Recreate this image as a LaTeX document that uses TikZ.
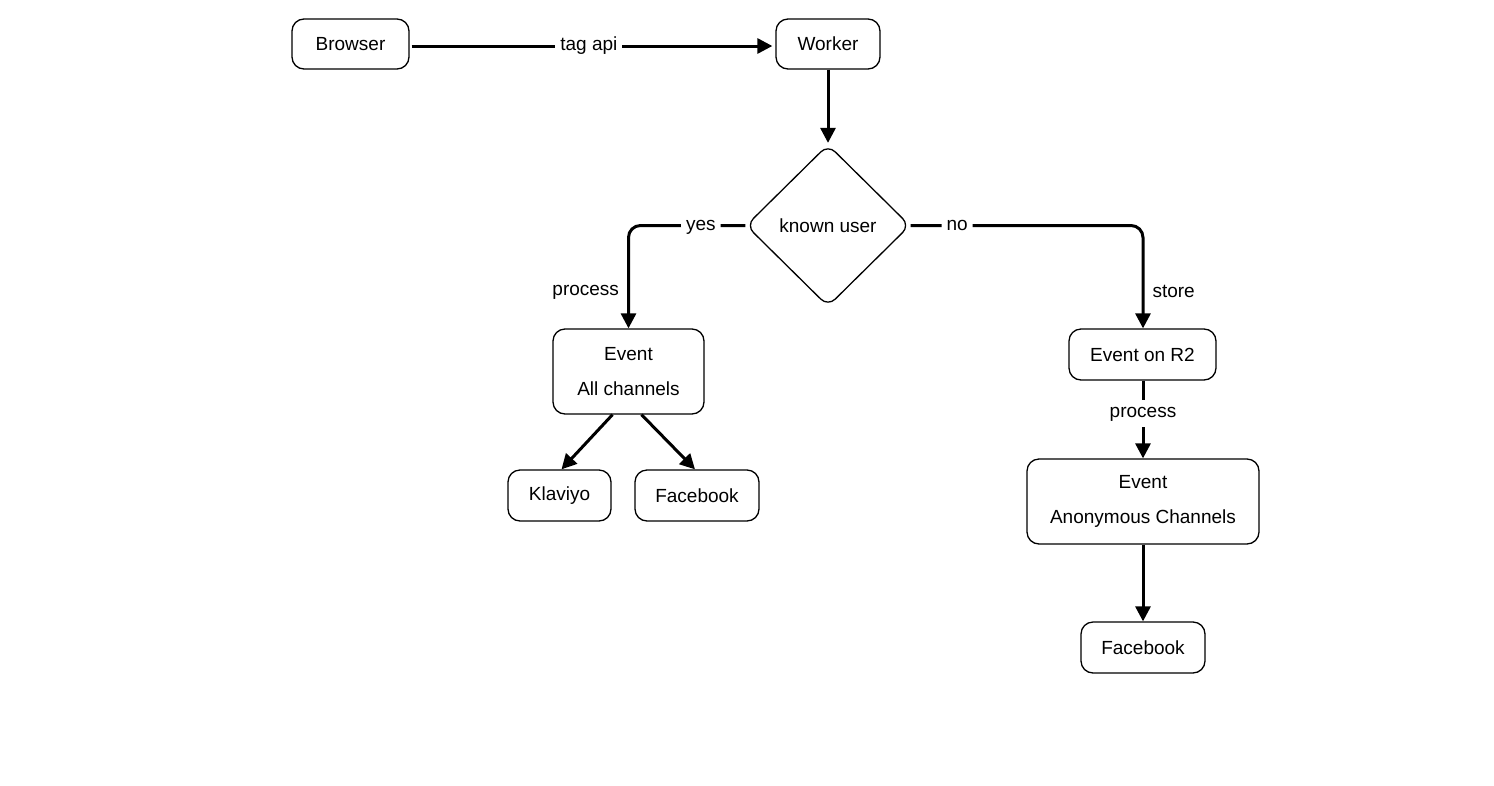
\documentclass[tikz,border=0pt]{standalone}
\usepackage{fontspec}
\setmainfont{Liberation Sans}
\usetikzlibrary{arrows.meta,shapes.geometric}
\tikzset{
  box/.style={draw=black, line width=1.3pt, rounded corners=12pt, inner sep=0pt, align=center, font=\fontsize{19}{35}\selectfont},
  conn/.style={line width=3pt, -{Triangle[length=15pt,width=15pt]}},
  lbl/.style={fill=white, inner sep=5pt, text height=13pt, text depth=4pt, font=\fontsize{19}{22}\selectfont},
  side/.style={inner sep=2pt, text height=13pt, text depth=4pt, font=\fontsize{19}{22}\selectfont},
}
\begin{document}
\begin{tikzpicture}[x=1pt,y=-1pt]
\useasboundingbox[fill=white] (0,0) rectangle (1494,785);
\node[box, minimum width=117pt, minimum height=50pt] (browser) at (350.5,44) {Browser};
\node[box, minimum width=104pt, minimum height=50pt] (worker) at (828,44) {Worker};
\node[draw=black, line width=1.3pt, shape=diamond, rounded corners=10pt, minimum width=164pt, minimum height=162pt, inner sep=0pt, font=\fontsize{19}{22}\selectfont] (dia) at (828,225.5) {known user};
\node[box, minimum width=151pt, minimum height=85pt] (ev1) at (628.5,371.5) {Event\\All channels};
\node[box, minimum width=103pt, minimum height=51pt] (klav) at (559.5,495.5) {Klaviyo};
\node[box, minimum width=124pt, minimum height=51pt] (fb1) at (697,495.5) {Facebook};
\node[box, minimum width=147pt, minimum height=51pt] (r2) at (1142.5,354.5) {Event on R2};
\node[box, minimum width=232pt, minimum height=85pt] (ev2) at (1143,501.5) {Event\\Anonymous Channels};
\node[box, minimum width=124pt, minimum height=51pt] (fb2) at (1143,647.5) {Facebook};

\draw[conn, shorten <=2pt, shorten >=3pt] ([yshift=-2pt]browser.east) -- node[lbl, pos=0.49] {tag api} ([yshift=-2pt]worker.west);
\draw[conn, shorten >=1pt] (worker.south) -- (dia.north);
\draw[conn, rounded corners=12pt] (dia.west) -| node[lbl, pos=0.19] {yes} node[side, left, pos=0.82, xshift=-6pt] {process} (ev1.north);
\draw[conn, rounded corners=12pt] (dia.east) -| node[lbl, pos=0.1] {no} node[side, right, pos=0.83, xshift=6pt] {store} ([xshift=0.5pt]r2.north);
\draw[conn] ([xshift=-16pt]ev1.south) -- ([xshift=2pt]klav.north);
\draw[conn] ([xshift=13pt]ev1.south) -- ([xshift=-2pt]fb1.north);
\draw[conn] ([xshift=0.5pt]r2.south) -- node[lbl, pos=0.42] {process} (ev2.north);
\draw[conn] (ev2.south) -- (fb2.north);
\end{tikzpicture}
\end{document}
